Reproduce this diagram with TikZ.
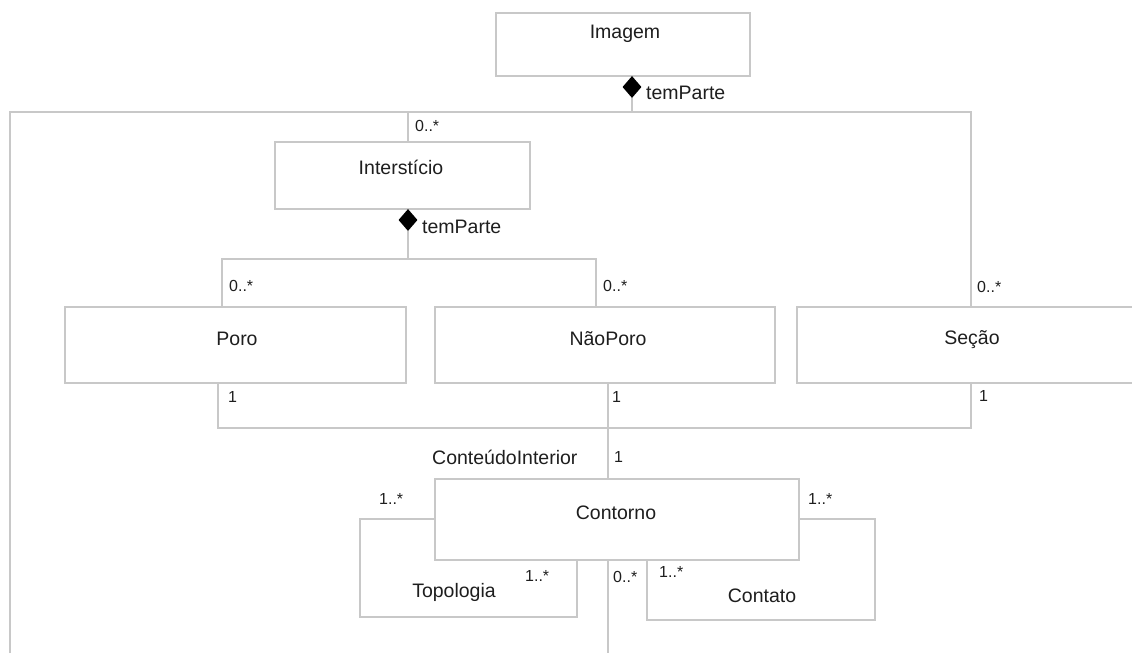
\documentclass[tikz,border=0pt]{standalone}
\usepackage{fontspec}
\setmainfont{Liberation Sans}
\usetikzlibrary{shapes.geometric}
\definecolor{lin}{RGB}{200,200,200}
\definecolor{txt}{RGB}{30,30,30}
\tikzset{
  cls/.style={draw=lin, line width=1.4pt, rectangle, inner sep=0pt, fill=white},
  conn/.style={draw=lin, line width=1.4pt},
  cname/.style={text=txt, font=\fontsize{19.5}{22}\selectfont, inner sep=0pt},
  mult/.style={text=txt, font=\fontsize{16}{18}\selectfont, inner sep=0pt, anchor=west},
  comp/.style={diamond, fill=black, draw=none, minimum width=19pt, minimum height=22pt, inner sep=0pt, aspect=0.9},
}
\begin{document}
\begin{tikzpicture}[x=1pt,y=-1pt]
\clip (0,0) rectangle (1132,653);
\useasboundingbox (0,0) rectangle (1132,653);
\fill[white] (0,0) rectangle (1132,653);

% class boxes
\node[cls, minimum width=254pt, minimum height=63pt] (img) at (623,44.5) {};
\node[cls, minimum width=255pt, minimum height=67pt] (inter) at (402.5,175.5) {};
\node[cls, minimum width=341pt, minimum height=76pt] (poro) at (235.5,345) {};
\node[cls, minimum width=340pt, minimum height=76pt] (nporo) at (605,345) {};
\node[cls, minimum width=350pt, minimum height=76pt] (secao) at (972,345) {};
\node[cls, minimum width=364pt, minimum height=81pt] (cont) at (617,519.5) {};

% class names
\node[cname] (imgT) at (625,34) {Imagem};
\node[cname] (interT) at (401,167) {Interstício};
\node[cname] (poroT) at (237,339) {Poro};
\node[cname] (nporoT) at (608,339) {NãoPoro};
\node[cname] (secaoT) at (972,340) {Seção};
\node[cname] (contT) at (616,513) {Contorno};

% composition diamonds
\node[comp] (dmI) at (632,87) {};
\node[comp] (dmS) at (408,220) {};

% junction coordinates
\coordinate (jA) at (632,112);
\coordinate (cL) at (10,112);
\coordinate (cR) at (971,112);
\coordinate (cLB) at (10,653);
\coordinate (jI) at (408,112);
\coordinate (jS) at (408,259);
\coordinate (jP) at (222,259);
\coordinate (jN) at (596,259);
\coordinate (bP) at (218,428);
\coordinate (bS) at (971,428);
\coordinate (jC) at (608,428);
\coordinate (tA) at (360,519);
\coordinate (tB) at (360,617);
\coordinate (tC) at (577,617);
\coordinate (kA) at (875,519);
\coordinate (kB) at (875,620);
\coordinate (kC) at (647,620);
\coordinate (dB) at (608,653);

% connectors
\draw[conn] (dmI.south) -- (jA);
\draw[conn] (cLB) -- (cL) -- (cR) -- (secao.north -| cR);
\draw[conn] (jI) -- (inter.north -| jI);
\draw[conn] (dmS.south) -- (jS);
\draw[conn] (poro.north -| jP) -- (jP) -- (jN) -- (nporo.north -| jN);
\draw[conn] (poro.south -| bP) -- (bP) -- (bS) -- (secao.south -| bS);
\draw[conn] (nporo.south -| jC) -- (cont.north -| jC);
\draw[conn] (cont.west |- tA) -- (tA) -- (tB) -- (tC) -- (cont.south -| tC);
\draw[conn] (cont.east |- kA) -- (kA) -- (kB) -- (kC) -- (cont.south -| kC);
\draw[conn] (cont.south -| dB) -- (dB);

% labels
\node[cname, anchor=west] (lt1) at (646,93) {temParte};
\node[cname, anchor=west] (lt2) at (422,227) {temParte};
\node[mult] (m1) at (415,126) {0..*};
\node[mult] (m2) at (229,286) {0..*};
\node[mult] (m3) at (603,286) {0..*};
\node[mult] (m4) at (977,287) {0..*};
\node[mult] (m5) at (228,397) {1};
\node[mult] (m6) at (612,397) {1};
\node[mult] (m7) at (979,396) {1};
\node[cname, anchor=west] (lci) at (432,457) {ConteúdoInterior};
\node[mult] (m8) at (614,457) {1};
\node[mult] (m9) at (379,499) {1..*};
\node[mult] (m10) at (808,499) {1..*};
\node[mult] (m11) at (525,576) {1..*};
\node[mult] (m12) at (613,577) {0..*};
\node[mult] (m13) at (659,572) {1..*};
\node[cname] (ltop) at (454,592) {Topologia};
\node[cname] (lcon) at (762,596) {Contato};
\end{tikzpicture}
\end{document}
